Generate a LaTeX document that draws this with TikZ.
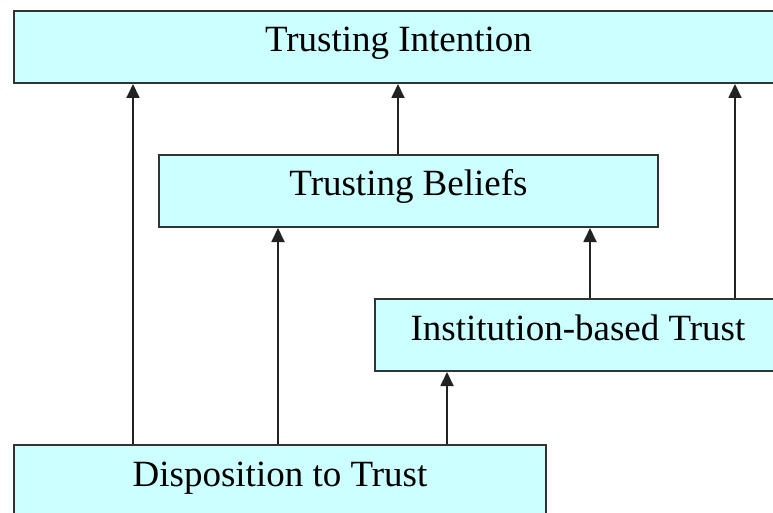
\documentclass[tikz,border=0pt]{standalone}
\usepackage{fontspec}
\setmainfont{Liberation Serif}
\usetikzlibrary{arrows.meta}
\definecolor{boxfill}{HTML}{CCFFFF}
\definecolor{boxline}{HTML}{333333}
\definecolor{arrline}{HTML}{222222}
\begin{document}
\begin{tikzpicture}[x=1pt,y=-1pt,
  box/.style={draw=boxline, line width=2pt, fill=boxfill, rectangle, inner sep=0pt,
    anchor=north west, minimum height=72pt,
    text height=25pt, text depth=15pt,
    font=\fontsize{37}{44}\selectfont},
  arr/.style={draw=arrline, line width=1.8pt, -{Triangle[width=13pt,length=14pt]}}]
  \useasboundingbox (0,0) rectangle (773,513);
  \clip (0,0) rectangle (773,513);
  % boxes
  \node[box, minimum width=769pt] (ti) at (13,10) {Trusting Intention};
  \node[box, minimum width=499pt] (tb) at (158,154) {Trusting Beliefs};
  \node[box, minimum width=406pt] (ib) at (374,298) {Institution-based Trust};
  \node[box, minimum width=532pt] (dt) at (13,444) {Disposition to Trust};
  % influences
  \draw[arr] ([xshift=120pt]dt.north west) -- ([xshift=120pt]ti.south west);
  \draw[arr] ([xshift=265pt]dt.north west) -- ([xshift=120pt]tb.south west);
  \draw[arr] ([xshift=434pt]dt.north west) -- ([xshift=73pt]ib.south west);
  \draw[arr] ([xshift=216pt]ib.north west) -- ([xshift=432pt]tb.south west);
  \draw[arr] ([xshift=361pt]ib.north west) -- ([xshift=722pt]ti.south west);
  \draw[arr] ([xshift=240pt]tb.north west) -- ([xshift=385pt]ti.south west);
\end{tikzpicture}
\end{document}
